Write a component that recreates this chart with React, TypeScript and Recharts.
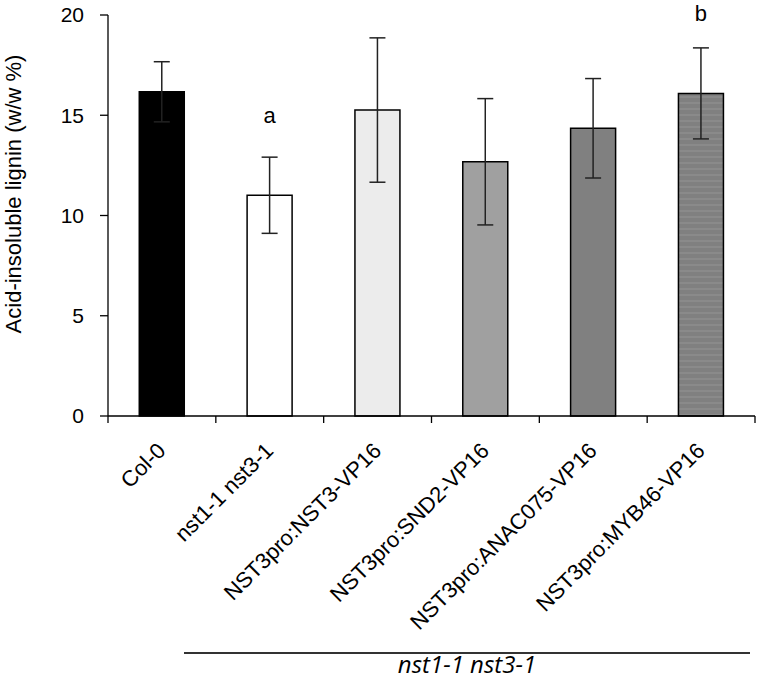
import { Bar, BarChart, Cell, ErrorBar, LabelList, XAxis, YAxis } from "recharts";

// 系統名・リグニン量・標準偏差・有意差記号
const strains = [
  "Col-0",
  "nst1-1 nst3-1",
  "NST3pro:NST3-VP16",
  "NST3pro:SND2-VP16",
  "NST3pro:ANAC075-VP16",
  "NST3pro:MYB46-VP16",
];
const lignin = [16.17, 11.01, 15.26, 12.68, 14.35, 16.09];
const sd = [1.5, 1.9, 3.6, 3.15, 2.48, 2.27];
const marks = ["", "a", "", "", "", "b"];
const yTicks = [0, 5, 10, 15, 20];

const fills = ["#000000", "#ffffff", "#ececec", "#a0a0a0", "#808080", "url(#stripes)"];

const W = 760;
const H = 681;
const PLOT_LEFT = 108;
const PLOT_RIGHT = 755;
const PLOT_TOP = 15;
const BAND = (PLOT_RIGHT - PLOT_LEFT) / strains.length;

const data = strains.map((name, i) => ({
  name,
  value: lignin[i],
  err: sd[i],
  mark: marks[i],
}));

const FONT = "'Liberation Sans', Arial, sans-serif";

// カテゴリ境界に目盛り線、中央に斜めのラベル
function CategoryTick(props: any) {
  const { x, y, payload, index } = props;
  const left = x - BAND / 2;
  const px = x + 5;
  const py = y + 28;
  return (
    <g>
      <line x1={left} y1={y - 8} x2={left} y2={y - 1} stroke="#000" strokeWidth={1.3} />
      {index === strains.length - 1 && (
        <line x1={left + BAND} y1={y - 8} x2={left + BAND} y2={y - 1} stroke="#000" strokeWidth={1.3} />
      )}
      <text
        x={px}
        y={py}
        transform={`rotate(-45, ${px}, ${py})`}
        textAnchor="end"
        fontFamily={FONT}
        fontSize={22}
        fill="#000"
      >
        {payload.value}
      </text>
    </g>
  );
}

// 有意差記号はバー上端から一定距離に置く
function MarkLabel(props: any) {
  const { x, y, width, index } = props;
  const m = marks[index];
  if (!m) return null;
  return (
    <text
      x={x + width / 2}
      y={y - 72}
      textAnchor="middle"
      fontFamily={FONT}
      fontSize={22}
      fill="#000"
    >
      {m}
    </text>
  );
}

function YTitle() {
  return (
    <text
      x={13}
      y={194}
      transform="rotate(-90, 13, 194)"
      textAnchor="middle"
      dominantBaseline="central"
      fontFamily={FONT}
      fontSize={22}
      fill="#000"
    >
      Acid-insoluble lignin (w/w %)
    </text>
  );
}

export default function App() {
  return (
    <div style={{ position: "absolute", left: 0, top: 0, width: W, height: H, background: "#fff" }}>
      <BarChart
        width={W}
        height={H}
        data={data}
        margin={{ top: PLOT_TOP, right: W - PLOT_RIGHT, left: 0, bottom: 15 }}
        barCategoryGap="29%"
      >
        <defs>
          <pattern id="stripes" width="6" height="6" patternUnits="userSpaceOnUse">
            <rect width="6" height="6" fill="#808080" />
            <rect y="0" width="6" height="2" fill="#8a8a8a" />
          </pattern>
        </defs>
        <XAxis
          dataKey="name"
          interval={0}
          height={250}
          tickLine={false}
          axisLine={{ stroke: "#000", strokeWidth: 1.3 }}
          tick={<CategoryTick />}
        />
        <YAxis
          width={PLOT_LEFT}
          domain={[0, 20]}
          ticks={yTicks}
          tickSize={8}
          tickMargin={16}
          axisLine={{ stroke: "#000", strokeWidth: 1.3 }}
          tickLine={{ stroke: "#000", strokeWidth: 1.3 }}
          tick={{ fontFamily: FONT, fontSize: 21, fill: "#000" }}
          label={<YTitle />}
        />
        <Bar dataKey="value" stroke="#000" strokeWidth={1.5} isAnimationActive={false}>
          {data.map((d, i) => (
            <Cell key={d.name} fill={fills[i]} />
          ))}
          <ErrorBar dataKey="err" width={8} stroke="#222" strokeWidth={1.5} />
          <LabelList dataKey="mark" content={<MarkLabel />} />
        </Bar>
      </BarChart>
      <div
        style={{
          position: "absolute",
          left: 184,
          top: 652,
          width: 566,
          height: 2,
          background: "#333",
        }}
      />
      <div
        style={{
          position: "absolute",
          left: 184,
          top: 652,
          width: 566,
          textAlign: "center",
          fontFamily: "'Open Sans', 'Noto Sans', sans-serif",
          fontStyle: "italic",
          fontSize: 24,
          lineHeight: 1,
          color: "#000",
        }}
      >
        nst1-1 nst3-1
      </div>
    </div>
  );
}
